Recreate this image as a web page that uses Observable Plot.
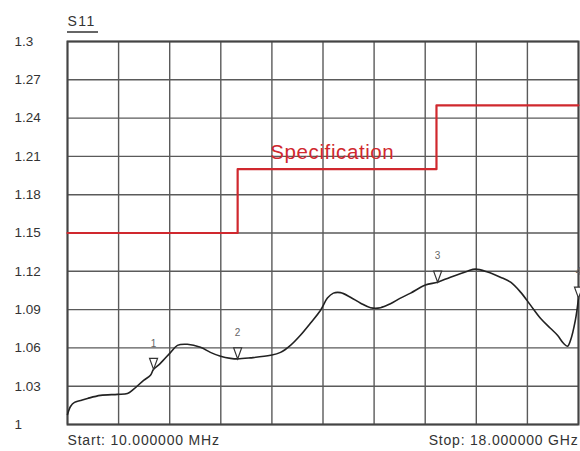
<!DOCTYPE html>
<html>
<head>
<meta charset="utf-8">
<script src="https://cdn.jsdelivr.net/npm/d3@7"></script>
<script src="https://cdn.jsdelivr.net/npm/@observablehq/plot@0.6"></script>
<style>
  html, body { margin: 0; padding: 0; background: #fff; }
  #chart svg { display: block; }
</style>
</head>
<body>
<div id="chart"></div>
<script>
// ---- data ----
const freqGHz = [0.01, 0.116, 0.256, 0.468, 0.714, 1.172, 1.77, 2.12, 2.33, 2.69, 2.93, 3.04, 3.28, 3.64, 3.88, 4.23, 4.69, 5.04, 5.40, 5.75, 6.0, 6.45, 7.16, 7.51, 7.86, 8.21, 8.56, 8.92, 9.16, 9.37, 9.62, 9.97, 10.33, 10.68, 11.03, 11.38, 11.73, 12.09, 12.61, 13.04, 13.49, 14.09, 14.37, 14.80, 15.25, 15.61, 15.96, 16.31, 16.66, 17.01, 17.26, 17.47, 17.61, 17.72, 17.89, 18.0];
const s11 = [1.0079, 1.0141, 1.0173, 1.0188, 1.0204, 1.0228, 1.0236, 1.0243, 1.0275, 1.0346, 1.0385, 1.0432, 1.0479, 1.0565, 1.062, 1.0628, 1.0605, 1.0565, 1.0534, 1.0518, 1.0514, 1.0522, 1.0542, 1.0565, 1.062, 1.0699, 1.0793, 1.0895, 1.099, 1.1029, 1.1033, 1.0997, 1.095, 1.0915, 1.0915, 1.0946, 1.099, 1.1029, 1.1092, 1.1115, 1.1154, 1.1201, 1.1217, 1.1194, 1.1154, 1.1115, 1.1037, 1.0935, 1.0832, 1.0754, 1.0699, 1.0636, 1.0613, 1.066, 1.0817, 1.099];

const specX = [0.01, 6, 6, 13, 13, 18];
const specY = [1.15, 1.15, 1.2, 1.2, 1.25, 1.25];
const specLabel = ["Specification"];
const specLabelX = [7.15];
const specLabelY = [1.21];

const markerNames = ["1", "2", "3", "4"];
const markerX = [3.04, 6.0, 13.04, 18.0];
const markerY = [1.0432, 1.0514, 1.1115, 1.099];

const yTicks = [1, 1.03, 1.06, 1.09, 1.12, 1.15, 1.18, 1.21, 1.24, 1.27, 1.3];
const xGrid = [0.01, 1.809, 3.608, 5.407, 7.206, 9.005, 10.804, 12.603, 14.402, 16.201, 18.0];

const traceTitle = ["S11"];
const startLabel = ["Start: 10.000000 MHz"];
const stopLabel = ["Stop: 18.000000 GHz"];

// ---- derived tables ----
const curve = freqGHz.map((f, i) => ({f, v: s11[i]}));
const spec = specX.map((f, i) => ({f, v: specY[i]}));
const markers = markerNames.map((n, i) => ({n, f: markerX[i], v: markerY[i]}));

const downTriangle = {
  draw(ctx) {
    ctx.moveTo(0, 0);
    ctx.lineTo(-4, -11);
    ctx.lineTo(4, -11);
    ctx.closePath();
  }
};

const font = "'Liberation Sans', Arial, sans-serif";

const chart = Plot.plot({
  width: 580,
  height: 451,
  marginLeft: 67,
  marginRight: 2,
  marginTop: 41,
  marginBottom: 27,
  style: {fontFamily: font, background: "#fff"},
  x: {domain: [0.01, 18], axis: null},
  y: {domain: [1, 1.3], axis: null},
  marks: [
    Plot.ruleY(yTicks, {stroke: "#5a5a5a", strokeWidth: 1.4}),
    Plot.ruleX(xGrid, {stroke: "#5a5a5a", strokeWidth: 1.4}),
    Plot.frame({stroke: "#444", strokeWidth: 2}),
    Plot.text(yTicks, {y: d => d, text: d => String(d), frameAnchor: "left", dx: -53, textAnchor: "start", fontSize: 13.5, fill: "#333"}),
    Plot.line(spec, {x: "f", y: "v", stroke: "#d0282e", strokeWidth: 2.2}),
    Plot.text(specLabel, {x: () => specLabelX[0], y: () => specLabelY[0], text: d => d, textAnchor: "start", dy: -4, fontSize: 20.5, fill: "#d0282e"}),
    Plot.line(curve, {x: "f", y: "v", curve: "catmull-rom", stroke: "#222", strokeWidth: 1.6}),
    Plot.dot(markers, {x: "f", y: "v", symbol: downTriangle, r: 5, fill: "#fff", stroke: "#333", strokeWidth: 1.2}),
    Plot.text(markers, {x: "f", y: "v", text: "n", dy: -26, fontSize: 10, fill: "#666"}),
    Plot.text(traceTitle, {frameAnchor: "top-left", dy: -16, lineAnchor: "bottom", textAnchor: "start", fontSize: 14, fill: "#333"}),
    Plot.text(startLabel, {frameAnchor: "bottom-left", dy: 20, lineAnchor: "bottom", textAnchor: "start", fontSize: 14, fill: "#333"}),
    Plot.text(stopLabel, {frameAnchor: "bottom-right", dy: 20, lineAnchor: "bottom", textAnchor: "end", fontSize: 14, fill: "#333"})
  ]
});

// letter spacing for the wider-set texts of the analyser screen
const spacing = {"S11": "1.4px", "Start: 10.000000 MHz": "0.8px", "Stop: 18.000000 GHz": "0.8px", "Specification": "0.6px"};
d3.select(chart).selectAll("text").each(function () {
  const s = spacing[this.textContent];
  if (s) this.setAttribute("letter-spacing", s);
});

// underline beneath the trace title
d3.select(chart).append("line")
  .attr("x1", 67).attr("x2", 98).attr("y1", 32).attr("y2", 32)
  .attr("stroke", "#333").attr("stroke-width", 1.5);

document.getElementById("chart").appendChild(chart);
</script>
</body>
</html>
